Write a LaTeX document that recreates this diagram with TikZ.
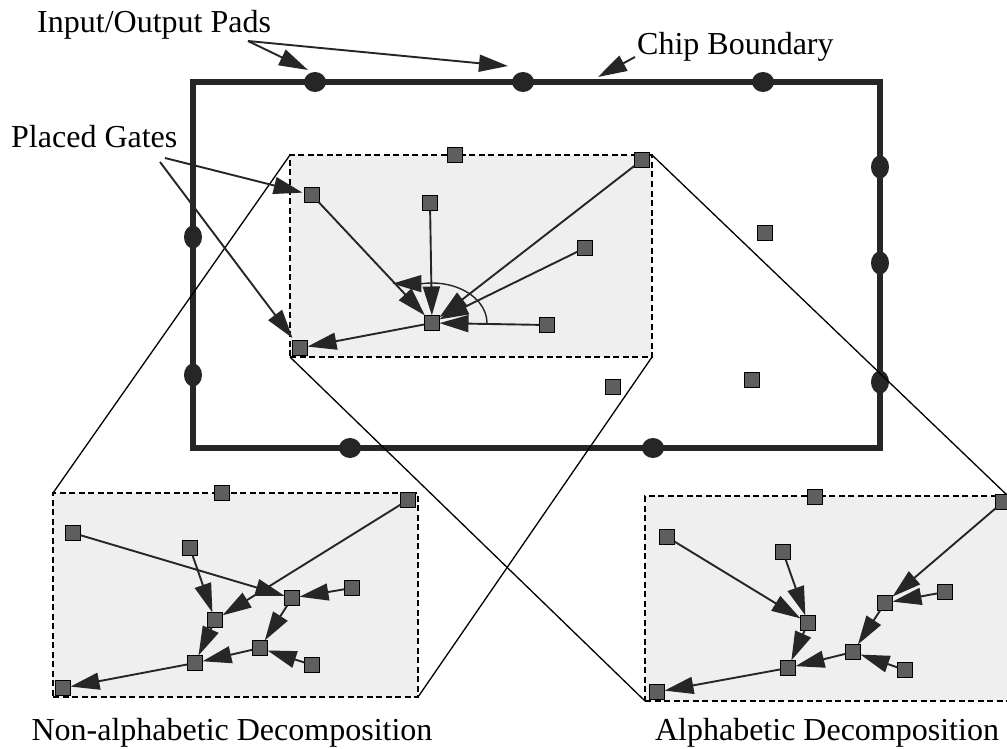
\documentclass[tikz,border=0pt]{standalone}
\usepackage{fontspec}
\setmainfont{Liberation Serif}
\usetikzlibrary{arrows.meta,shapes.geometric}
\definecolor{ink}{HTML}{262626}
\definecolor{gatefill}{HTML}{5E5E5E}
\definecolor{panel}{HTML}{EFEFEF}
\begin{document}
\begin{tikzpicture}[x=1pt,y=-1pt,
  gate/.style={draw=black,fill=gatefill,line width=1.3pt,minimum size=15pt,inner sep=0pt,outer sep=0pt},
  pad/.style={ellipse,fill=ink,draw=none,inner sep=0pt,minimum width=22pt,minimum height=20pt},
  sidepad/.style={pad,minimum width=18pt,minimum height=23pt},
  wire/.style={draw=ink,line width=1.9pt,-{Triangle[length=29pt,width=17pt]}},
  zoomline/.style={draw=black,line width=1.3pt},
  panelbox/.style={draw=black,fill=panel,dash pattern=on 6pt off 3.5pt,line width=2pt,inner sep=0pt,outer sep=0pt},
  lbl/.style={font=\fontsize{32}{36}\selectfont,inner sep=0pt,anchor=base west}
]
\useasboundingbox (0,0) rectangle (1007,749);
\fill[white] (0,0) rectangle (1007,749);

% chip outline and its I/O pads
\node[draw=ink,line width=6pt,minimum width=687pt,minimum height=366pt,inner sep=0pt] (chip) at (536.5,265) {};
\node[pad] (padT1) at (315,82) {};
\node[pad] (padT2) at (523,82) {};
\node[pad] (padT3) at (763,82) {};
\node[sidepad] (padR1) at (880,167) {};
\node[sidepad] (padR2) at (880,263) {};
\node[sidepad] (padR3) at (880,382) {};
\node[sidepad] (padL1) at (193,237) {};
\node[sidepad] (padL2) at (193,375) {};
\node[pad] (padB1) at (350,448) {};
\node[pad] (padB2) at (653,448) {};

% the magnified region and its two decompositions
\node[panelbox,minimum width=362pt,minimum height=202pt] (inner) at (471,256) {};
\node[panelbox,minimum width=365pt,minimum height=204pt] (lbox) at (235.5,595) {};
\node[panelbox,minimum width=363pt,minimum height=205pt] (rbox) at (826.5,598.5) {};

\draw[zoomline] (inner.north west) -- (lbox.north west);
\draw[zoomline] (inner.south east) -- (lbox.south east);
\draw[zoomline] (inner.north east) -- (rbox.north east);
\draw[zoomline] (inner.south west) -- (rbox.south west);

% gates in the magnified region
\node[gate] (it)  at (455,155) {};
\node[gate] (itr) at (642,160) {};
\node[gate] (i1)  at (312,195) {};
\node[gate] (i2)  at (430,203) {};
\node[gate] (i3)  at (585,248) {};
\node[gate] (ic)  at (432,323) {};
\node[gate] (i4)  at (547,325) {};
\node[gate] (ibl) at (300,348) {};

% other placed gates on the chip
\node[gate] (o1) at (765,233) {};
\node[gate] (o2) at (613,387) {};
\node[gate] (o3) at (752,380) {};

\draw[wire] (i1) -- (ic);
\draw[wire] (i2) -- (ic);
\draw[wire] (itr) -- (ic);
\draw[wire] (i3) -- (ic);
\draw[wire] (i4) -- (ic);
\draw[wire] (ic) -- (ibl);
\draw[wire,line width=1.4pt] ([xshift=55pt]ic.center) arc[start angle=0,end angle=100,x radius=55pt,y radius=40pt] -- ++(-30pt,0pt);

% non-alphabetic decomposition
\node[gate] (lt)  at (222,493) {};
\node[gate] (ltr) at (408,500) {};
\node[gate] (lA)  at (73,533) {};
\node[gate] (lB)  at (190,548) {};
\node[gate] (lC)  at (352,588) {};
\node[gate] (lD)  at (292,598) {};
\node[gate] (lE)  at (215,620) {};
\node[gate] (lF)  at (260,648) {};
\node[gate] (lG)  at (312,665) {};
\node[gate] (lH)  at (195,663) {};
\node[gate] (lbl) at (63,688) {};
\draw[wire] (lA) -- (lD);
\draw[wire] (ltr) -- (lE);
\draw[wire] (lB) -- (lE);
\draw[wire] (lC) -- (lD);
\draw[wire] (lD) -- (lF);
\draw[wire] (lE) -- (lH);
\draw[wire] (lF) -- (lH);
\draw[wire] (lG) -- (lF);
\draw[wire] (lH) -- (lbl);

% alphabetic decomposition
\node[gate] (rt)  at (815,497) {};
\node[gate] (rtr) at (1003,502) {};
\node[gate] (rA)  at (667,537) {};
\node[gate] (rB)  at (783,552) {};
\node[gate] (rC)  at (945,592) {};
\node[gate] (rD)  at (885,603) {};
\node[gate] (rE)  at (808,623) {};
\node[gate] (rF)  at (853,652) {};
\node[gate] (rG)  at (905,670) {};
\node[gate] (rH)  at (788,668) {};
\node[gate] (rbl) at (657,692) {};
\draw[wire] (rA) -- (rE);
\draw[wire] (rB) -- (rE);
\draw[wire] (rtr) -- (rD);
\draw[wire] (rC) -- (rD);
\draw[wire] (rD) -- (rF);
\draw[wire] (rE) -- (rH);
\draw[wire] (rF) -- (rH);
\draw[wire] (rG) -- (rF);
\draw[wire] (rH) -- (rbl);

% labels and pointers
\node[lbl] (io) at (37,33) {Input/Output Pads};
\node[lbl] (cb) at (637,55) {Chip Boundary};
\node[lbl] (pg) at (11,148) {Placed Gates};
\node[lbl,anchor=base] (na) at (232,740) {Non-alphabetic Decomposition};
\node[lbl,anchor=base] (al) at (827,740) {Alphabetic Decomposition};

\coordinate (ioS) at (248,41);
\coordinate (ioTip1) at (308,70);
\coordinate (ioTip2) at (508,66);
\coordinate (cbS) at (635,57);
\coordinate (cbTip) at (598,77);
\coordinate (pgS1) at (165,158);
\coordinate (pgS2) at (160,162);
\draw[wire] (ioS) -- (ioTip1);
\draw[wire] (ioS) -- (ioTip2);
\draw[wire] (cbS) -- (cbTip);
\draw[wire,shorten >=2pt] (pgS1) -- (i1);
\draw[wire,shorten >=3pt] (pgS2) -- (ibl);
\end{tikzpicture}
\end{document}
